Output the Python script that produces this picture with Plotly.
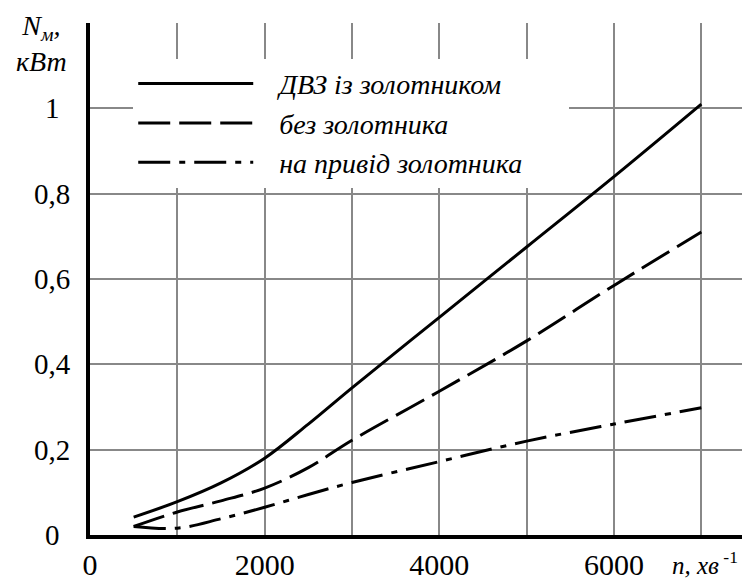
import plotly.graph_objects as go

# -------------------------------------------------
# Data
# -------------------------------------------------
n_rpm = [500, 1000, 1500, 2000, 2500, 3000, 4000, 5000, 6000, 7000]

n_with_valve = [0.042, 0.078, 0.122, 0.18, 0.26, 0.345, 0.51, 0.675, 0.84, 1.01]
n_no_valve = [0.02, 0.054, 0.08, 0.11, 0.158, 0.222, 0.337, 0.455, 0.585, 0.71]
n_valve_drive = [0.02, 0.016, 0.038, 0.065, 0.095, 0.123, 0.172, 0.22, 0.26, 0.298]

series_names = ["ДВЗ із золотником", "без золотника", "на привід золотника"]

x_ticks = [0, 2000, 4000, 6000]
x_minor = [1000, 3000, 5000, 7000]
y_ticks = [0, 0.2, 0.4, 0.6, 0.8, 1.0, 1.2]
y_labels = ["0", "0,2", "0,4", "0,6", "0,8", "1", ""]

FONT = "Liberation Serif, DejaVu Serif, serif"

fig = go.Figure()

styles = [
    dict(color="black", width=3),
    dict(color="black", width=3, dash="32px,9px"),
    dict(color="black", width=3, dash="32px,9px,6px,9px"),
]

for name, values, style in zip(series_names,
                               [n_with_valve, n_no_valve, n_valve_drive],
                               styles):
    fig.add_trace(go.Scatter(
        x=n_rpm,
        y=values,
        name="\u00a0\u00a0\u00a0<i>" + name + "</i>" + "\u00a0" * 6,
        mode="lines",
        line=dict(shape="spline", smoothing=1.0, **style),
    ))

# y tick labels are centred in the reference, so place them as annotations
for val, lab in zip(y_ticks, y_labels):
    if lab:
        fig.add_annotation(
            x=-0.058, xref="paper", y=val, yref="y",
            text=lab, showarrow=False, xanchor="center", yanchor="middle",
            font=dict(family=FONT, size=29, color="black"),
        )

# axis titles
fig.add_annotation(
    x=-0.074, xref="paper", y=1.03, yref="paper",
    text="<i>N<sub>м</sub>,</i><br><i>кВт</i>",
    showarrow=False, xanchor="center", yanchor="top",
    align="center",
    font=dict(family=FONT, size=28, color="black"),
)
fig.add_annotation(
    x=0.885, xref="paper", y=-0.09, yref="paper",
    text="<i>n, хв</i><sup> -1</sup>",
    showarrow=False, xanchor="left", yanchor="bottom",
    font=dict(family=FONT, size=25, color="black"),
)

# thin frame line on the right side
fig.add_shape(type="line", xref="paper", yref="paper",
              x0=1, x1=1, y0=0, y1=1,
              line=dict(color="#333", width=1.5))

fig.update_xaxes(
    range=[0, 7500],
    tickvals=x_ticks,
    showgrid=True,
    gridcolor="#888",
    gridwidth=1.5,
    minor=dict(tickvals=x_minor, showgrid=True, gridcolor="#888", gridwidth=1.5),
    showline=True,
    linecolor="black",
    linewidth=4,
    zeroline=False,
    ticks="",
    tickfont=dict(family=FONT, size=30, color="black"),
)

fig.update_yaxes(
    range=[0, 1.2],
    tickvals=y_ticks,
    showticklabels=False,
    showgrid=True,
    gridcolor="#888",
    gridwidth=1.5,
    showline=True,
    linecolor="black",
    linewidth=4,
    zeroline=False,
    ticks="",
)

fig.update_layout(
    width=750,
    height=585,
    margin=dict(l=82, r=13, t=15, b=54),
    plot_bgcolor="white",
    paper_bgcolor="white",
    showlegend=True,
    legend=dict(
        x=0.066, y=0.93,
        xanchor="left", yanchor="top",
        bgcolor="white",
        itemwidth=115,
        font=dict(family=FONT, size=28, color="black"),
        tracegroupgap=0,
    ),
    font=dict(family=FONT, color="black"),
)

fig.write_html("out.html")
